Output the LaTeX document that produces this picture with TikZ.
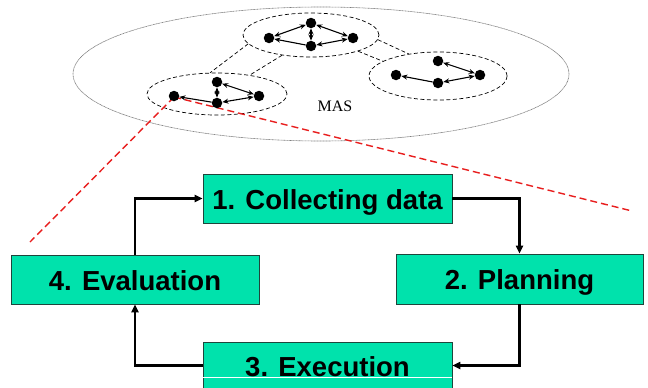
\documentclass[tikz,border=0pt]{standalone}
\usepackage{fontspec}
\setmainfont{Liberation Serif}
\setsansfont{Liberation Sans}
\usetikzlibrary{shapes.geometric,arrows.meta}
\definecolor{boxfill}{RGB}{0,226,172}
\definecolor{boxline}{RGB}{30,70,60}
\definecolor{linkred}{RGB}{232,30,30}
\definecolor{masline}{RGB}{125,125,125}
\tikzset{
  stage/.style={draw=boxline, line width=0.8pt, fill=boxfill, inner sep=0pt,
    font=\sffamily\bfseries\fontsize{27.5}{30}\selectfont,
    text height=21pt, text depth=0pt},
  stagearrow/.style={line width=2.2pt, -{Triangle[length=8pt,width=7pt]}},
  agent/.style={circle, fill=black, inner sep=0pt, minimum size=10.5pt},
  cluster/.style={ellipse, draw, dash pattern=on 4pt off 2.5pt, line width=0.7pt, inner sep=0pt},
  grouplink/.style={dash pattern=on 4pt off 2.5pt, line width=0.7pt},
  msg/.style={line width=1.1pt, {Stealth[length=6pt,width=5pt]}-{Stealth[length=6pt,width=5pt]}},
  msgone/.style={line width=1.1pt, {Stealth[length=6pt,width=5pt]}-},
  zoomline/.style={draw=linkred, line width=1.4pt, dash pattern=on 7pt off 4pt},
}
\begin{document}
\begin{tikzpicture}[x=1pt,y=-1pt]
\useasboundingbox (0,0) rectangle (648,388);
\clip (0,0) rectangle (648,388);
\fill[white] (0,0) rectangle (648,388);

% the multi-agent system
\node[ellipse, draw=masline, line width=0.6pt, dash pattern=on 1pt off 0.5pt,
      minimum width=496pt, minimum height=134pt, inner sep=0pt] (mas) at (321,74) {};
\node[font=\fontsize{16}{18}\selectfont] (maslabel) at (335,106) {MAS};

% agent groups
\node[cluster, minimum width=140pt, minimum height=42pt] (ga) at (217,94) {};
\node[cluster, minimum width=136pt, minimum height=44pt] (gb) at (311,35) {};
\node[cluster, minimum width=138pt, minimum height=48pt] (gc) at (438,76) {};

\draw[grouplink] (gb.188) -- (ga.108);
\draw[grouplink] (gb.215) -- (ga.30);
\draw[grouplink] (gb.-4) -- (gc.143);
\draw[grouplink] (gb.-19) -- (gc.165);

% zoom lines from the selected agent
\coordinate (farL) at (30,242);
\coordinate (farR) at (632,211);
\coordinate (zoomsrc) at (174,97);
\draw[zoomline] (zoomsrc) -- (farL);
\draw[zoomline] (zoomsrc) -- (farR);

% agents of group A
\node[agent] (aL) at (174,96) {};
\node[agent] (aT) at (217,82) {};
\node[agent] (aR) at (259,96) {};
\node[agent] (aB) at (217,103) {};
\draw[msgone] (aL) -- (aB);
\draw[msg] (aT) -- (aB);
\draw[msg] (aT) -- (aR);
\draw[msg] (aB) -- (aR);

% agents of group B
\node[agent] (bL) at (269,38) {};
\node[agent] (bT) at (311,23) {};
\node[agent] (bR) at (353,38) {};
\node[agent] (bB) at (311,46) {};
\draw[msg] (bL) -- (bT);
\draw[msg] (bT) -- (bB);
\draw[msg] (bT) -- (bR);
\draw[msgone] (bL) -- (bB);
\draw[msg] (bB) -- (bR);

% agents of group C
\node[agent] (cL) at (396,75) {};
\node[agent] (cT) at (438,61) {};
\node[agent] (cR) at (480,75) {};
\node[agent] (cB) at (438,83) {};
\draw[msg] (cT) -- (cR);
\draw[msg] (cB) -- (cR);
\draw[msgone] (cL) -- (cB);

% the four-stage cycle
\node[stage, minimum width=249pt, minimum height=49pt] (s1) at (327.5,198.5) {1. Collecting data};
\node[stage, minimum width=247pt, minimum height=50pt] (s2) at (519.5,279) {2. Planning};
\node[stage, minimum width=249pt, minimum height=47pt] (s3) at (327.5,365.5) {3. Execution};
\node[stage, minimum width=248pt, minimum height=49pt] (s4) at (135,279.5) {4. Evaluation};
\draw[white, line width=1pt] ([yshift=-11.5pt]s3.west) -- ([yshift=-11.5pt]s3.east);

\draw[stagearrow] (s1.east) -| (s2.north);
\draw[stagearrow] (s2.south) |- (s3.east);
\draw[stagearrow] (s3.west) -| (s4.south);
\draw[stagearrow] (s4.north) |- (s1.west);
\end{tikzpicture}
\end{document}
